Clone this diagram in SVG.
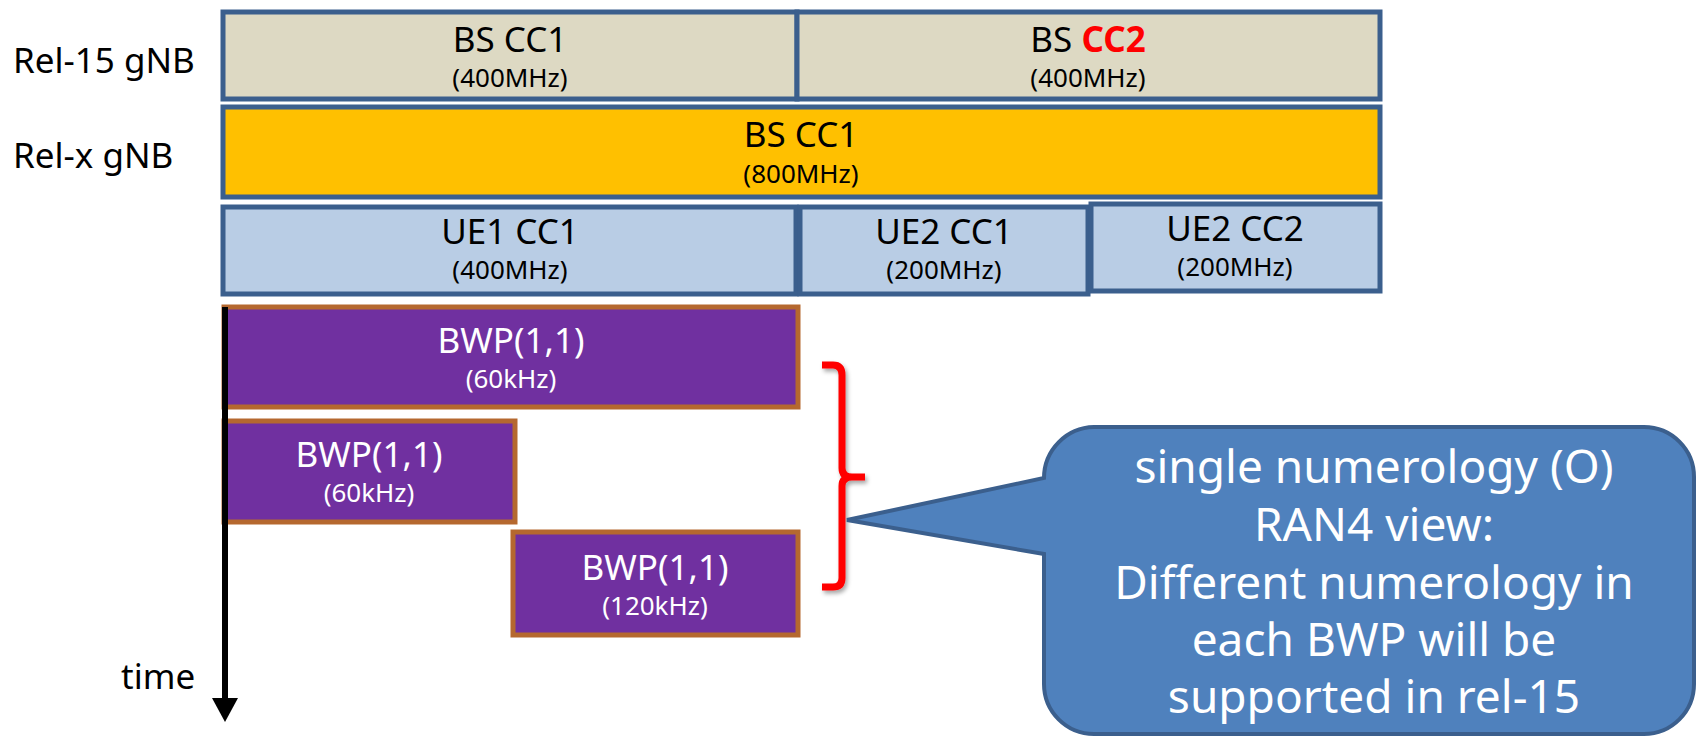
<svg xmlns="http://www.w3.org/2000/svg" width="1696" height="737" viewBox="0 0 1696 737">
  <defs>
    <style>
      text { font-family: "Noto Sans", "Open Sans", "Liberation Sans", sans-serif; text-anchor: middle; }
      .lbl { font-size: 35px; fill: #000; text-anchor: start; }
      .t1 { font-size: 35px; fill: #000; }
      .t2 { font-size: 26px; fill: #000; }
      .w1 { font-size: 35px; fill: #fff; }
      .w2 { font-size: 26px; fill: #fff; }
      .cc { stroke: #3B5F8D; stroke-width: 5; }
      .bs15 { fill: #DDD9C3; }
      .bsx { fill: #FFC000; }
      .ue { fill: #B9CDE5; }
      .bwp { fill: #7030A0; stroke: #B5682F; stroke-width: 5; }
      .call { fill: #4F81BD; stroke: #3B5F8D; stroke-width: 4; }
      .ct { font-size: 46px; fill: #fff; }
    </style>
    <filter id="sh" x="-50%" y="-10%" width="200%" height="120%">
      <feDropShadow dx="2" dy="3" stdDeviation="2" flood-color="#000" flood-opacity="0.35"/>
    </filter>
  </defs>

  <g id="labels">
    <text class="lbl" x="13" y="73">Rel-15 gNB</text>
    <text class="lbl" x="13" y="168">Rel-x gNB</text>
  </g>

  <g id="bs15-cc1">
    <rect class="cc bs15" x="223" y="12" width="574" height="87"/>
    <text class="t1" x="510" y="52">BS CC1</text>
    <text class="t2" x="510" y="87">(400MHz)</text>
  </g>
  <g id="bs15-cc2">
    <rect class="cc bs15" x="797" y="12" width="583" height="87"/>
    <text class="t1" x="1088" y="52">BS <tspan fill="#FF0000" font-weight="bold">CC2</tspan></text>
    <text class="t2" x="1088" y="87">(400MHz)</text>
  </g>
  <g id="bsx-cc1">
    <rect class="cc bsx" x="223" y="107" width="1157" height="90"/>
    <text class="t1" x="801" y="147">BS CC1</text>
    <text class="t2" x="801" y="183">(800MHz)</text>
  </g>
  <g id="ue1-cc1">
    <rect class="cc ue" x="223" y="207" width="573" height="87"/>
    <text class="t1" x="510" y="244">UE1 CC1</text>
    <text class="t2" x="510" y="279">(400MHz)</text>
  </g>
  <g id="ue2-cc1">
    <rect class="cc ue" x="800" y="207" width="288" height="87"/>
    <text class="t1" x="944" y="244">UE2 CC1</text>
    <text class="t2" x="944" y="279">(200MHz)</text>
  </g>
  <g id="ue2-cc2">
    <rect class="cc ue" x="1091" y="204" width="289" height="87"/>
    <text class="t1" x="1235" y="241">UE2 CC2</text>
    <text class="t2" x="1235" y="276">(200MHz)</text>
  </g>

  <g id="bwp1">
    <rect class="bwp" x="224" y="307" width="574" height="100"/>
    <text class="w1" x="511" y="353">BWP(1,1)</text>
    <text class="w2" x="511" y="388">(60kHz)</text>
  </g>
  <g id="bwp2">
    <rect class="bwp" x="224" y="421" width="291" height="101"/>
    <text class="w1" x="369" y="467">BWP(1,1)</text>
    <text class="w2" x="369" y="502">(60kHz)</text>
  </g>
  <g id="bwp3">
    <rect class="bwp" x="513" y="532" width="285" height="103"/>
    <text class="w1" x="655" y="580">BWP(1,1)</text>
    <text class="w2" x="655" y="615">(120kHz)</text>
  </g>

  <g id="time-axis">
    <line x1="225" y1="307" x2="225" y2="700" stroke="#000" stroke-width="6"/>
    <path d="M212,698 L238,698 L225,722 Z" fill="#000"/>
    <text class="lbl" x="121" y="689">time</text>
  </g>

  <g id="connectors">
    <path d="M822,365 H833 Q842,365 842,375 V468 Q842,477 852,477 H865 M852,477 Q842,477 842,486 V578 Q842,587 833,587 H822" fill="none" stroke="#FF0000" stroke-width="7" filter="url(#sh)"/>
  </g>

  <g id="callout">
    <path class="call" d="M1094,427 H1644 A50,50 0 0 1 1694,477 V684 A50,50 0 0 1 1644,734 H1094 A50,50 0 0 1 1044,684 V554 L847,520 L1044,478 A51,51 0 0 1 1094,427 Z"/>
    <text class="ct" x="1374" y="483">single numerology (O)</text>
    <text class="ct" x="1374" y="541">RAN4 view:</text>
    <text class="ct" x="1374" y="599">Different numerology in</text>
    <text class="ct" x="1374" y="656">each BWP will be</text>
    <text class="ct" x="1374" y="713">supported in rel-15</text>
  </g>
</svg>
